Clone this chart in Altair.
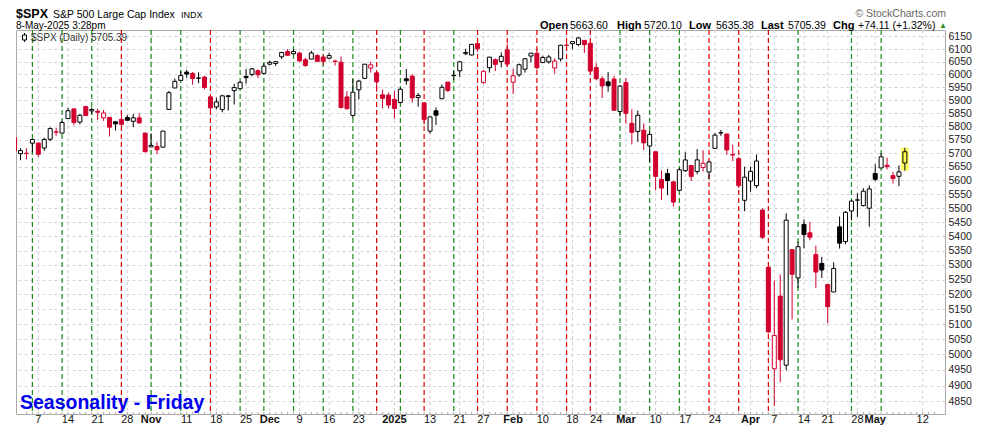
import altair as alt
import pandas as pd
import numpy as np

# ---------------- data ----------------
oct_days = [1,2,3,4,7,8,9,10,11,14,15,16,17,18,21,22,23,24,25,28,29,30,31]
nov_days = [1,4,5,6,7,8,11,12,13,14,15,18,19,20,21,22,25,26,27,29]
dec_days = [2,3,4,5,6,9,10,11,12,13,16,17,18,19,20,23,24,26,27,30,31]
jan_days = [2,3,6,7,8,10,13,14,15,16,17,21,22,23,24,27,28,29,30,31]
feb_days = [3,4,5,6,7,10,11,12,13,14,18,19,20,21,24,25,26,27,28]
mar_days = [3,4,5,6,7,10,11,12,13,14,17,18,19,20,21,24,25,26,27,28,31]
apr_days = [1,2,3,4,7,8,9,10,11,14,15,16,17,21,22,23,24,25,28,29,30]
may_days = [1,2,5,6,7,8]

opens = [
 5757.73,5698.14,5698.19,5737.35,5737.80,5719.14,5751.80,5778.36,5775.09,5829.81,5866.74,5816.58,5875.62,5859.43,5857.82,5832.70,5834.50,5817.80,5826.75,5833.93,5819.68,5832.65,5775.34,
 5723.22,5725.15,5722.43,5864.89,5947.21,5976.76,6008.86,6003.60,5985.75,5989.60,5912.79,5874.17,5864.59,5914.17,5937.00,5944.36,5992.28,6000.03,6014.11,6003.98,
 6040.11,6042.97,6069.39,6089.84,6081.38,6083.96,6057.59,6060.15,6074.29,6068.17,6063.79,6052.55,6047.65,5912.71,5842.00,5940.25,5984.63,6024.97,6006.17,5920.67,5919.74,
 5903.26,5891.07,5982.81,5993.26,5910.66,5890.02,5782.50,5859.41,5905.71,5969.89,5995.00,6014.12,6081.39,6076.32,6121.43,5969.04,6026.01,6057.70,6050.75,6096.79,
 5969.65,5998.14,6020.45,6072.22,6083.13,6046.40,6049.32,6025.08,6060.59,6115.52,6121.60,6117.76,6134.50,6123.03,6026.69,5982.73,5970.87,5981.88,5856.74,
 5968.33,5811.98,5781.41,5785.87,5726.80,5705.37,5603.65,5624.84,5594.45,5563.85,5635.60,5654.53,5632.37,5646.92,5630.72,5718.08,5775.17,5771.66,5695.64,5679.64,5527.91,
 5597.53,5580.76,5492.74,5292.14,4953.79,5193.57,4965.28,5353.15,5255.56,5441.96,5411.99,5335.75,5305.45,5232.94,5207.67,5433.19,5381.38,5489.73,5529.22,5508.87,5499.44,
 5625.14,5645.55,5655.32,5617.33,5614.94,5663.60]

highs = [
 5757.73,5719.14,5718.78,5753.12,5739.34,5757.60,5796.80,5795.03,5822.13,5871.41,5870.36,5846.52,5878.46,5872.17,5866.92,5863.04,5834.85,5817.80,5862.82,5842.92,5847.19,5850.94,5775.34,
 5772.52,5741.43,5783.44,5936.14,5983.84,6012.45,6017.31,6009.92,6008.19,5993.88,5915.29,5909.45,5920.81,5920.67,5963.44,5972.90,6020.75,6025.42,6020.16,6044.17,
 6053.58,6052.06,6087.44,6099.97,6099.97,6088.51,6065.40,6092.59,6079.68,6078.58,6085.19,6057.68,6070.67,5935.52,5982.06,5978.25,6040.10,6049.75,6006.17,5940.79,5929.74,
 5935.09,5949.34,6021.04,6000.68,5927.89,5890.02,5838.36,5871.92,5960.61,5969.89,6014.96,6051.51,6100.81,6118.73,6128.18,6017.17,6069.69,6062.83,6086.64,6120.91,
 6022.13,6042.48,6062.86,6084.03,6101.28,6073.38,6076.28,6063.62,6116.91,6127.47,6129.63,6147.43,6134.50,6125.16,6043.65,5992.65,6009.82,5993.69,5959.40,
 5986.09,5865.08,5860.59,5812.08,5783.01,5705.37,5636.30,5642.19,5597.78,5645.27,5703.52,5654.53,5715.33,5711.15,5670.84,5775.14,5786.95,5772.51,5732.28,5685.89,5650.57,
 5650.83,5695.31,5499.53,5292.14,5246.57,5267.47,5481.34,5353.15,5381.46,5459.46,5450.41,5367.24,5328.31,5232.94,5309.60,5469.69,5489.40,5528.11,5553.66,5571.95,5581.84,
 5658.91,5700.70,5683.28,5631.42,5655.41,5720.10]

lows = [
 5681.28,5674.00,5677.40,5702.83,5686.85,5708.73,5745.02,5764.76,5775.09,5829.81,5804.48,5808.34,5840.25,5846.11,5824.81,5821.17,5762.41,5784.92,5799.98,5823.08,5797.87,5811.28,5703.43,
 5723.22,5696.51,5722.10,5864.89,5947.21,5976.76,5986.69,5960.08,5965.91,5942.28,5853.01,5865.95,5853.81,5860.70,5883.48,5944.36,5963.91,5992.27,5984.87,6003.98,
 6035.33,6033.39,6060.70,6079.98,6079.98,6048.63,6029.89,6060.15,6051.25,6035.77,6059.14,6035.19,5867.79,5866.07,5832.30,5902.57,5981.44,6007.37,5932.95,5869.16,5868.86,
 5829.53,5888.66,5960.01,5890.68,5874.78,5807.78,5773.31,5805.23,5905.71,5930.99,5978.44,5990.00,6076.13,6074.67,6088.74,5962.92,6007.21,6012.96,6027.46,6030.93,
 5923.93,5990.87,6007.06,6046.83,6019.96,6044.84,6042.34,6003.00,6051.00,6107.62,6099.51,6111.15,6084.59,6008.56,5977.43,5908.49,5932.69,5858.78,5837.66,
 5810.91,5732.59,5742.35,5711.64,5666.29,5564.02,5528.41,5546.09,5504.65,5563.85,5631.12,5597.76,5622.20,5632.33,5603.10,5718.08,5764.92,5694.06,5670.94,5572.42,5488.73,
 5558.52,5571.48,5390.83,5069.90,4835.04,4910.42,4948.43,5115.27,5220.77,5358.02,5386.44,5220.79,5255.58,5101.63,5207.67,5356.88,5371.96,5455.86,5468.64,5505.70,5433.24,
 5597.35,5645.55,5640.40,5589.09,5578.64,5635.38]

closes = [
 5708.75,5709.54,5699.94,5751.07,5695.94,5751.13,5792.04,5780.05,5815.03,5859.85,5815.26,5842.47,5841.47,5864.67,5853.98,5851.20,5797.42,5809.86,5808.12,5823.52,5832.92,5813.67,5705.45,
 5728.80,5712.69,5782.76,5929.04,5973.10,5995.54,6001.35,5983.99,5985.38,5949.17,5870.62,5893.62,5916.98,5917.11,5948.71,5969.34,5987.37,6021.63,5998.74,6032.38,
 6047.15,6049.88,6086.49,6075.11,6090.27,6052.85,6034.91,6084.19,6051.25,6051.09,6074.08,6050.61,5872.16,5867.08,5930.85,5974.07,6040.04,6037.59,5970.84,5906.94,5881.63,
 5868.55,5942.47,5975.38,5909.03,5918.25,5827.04,5836.22,5842.91,5949.91,5937.34,5996.66,6049.24,6086.37,6118.71,6101.24,6012.28,6067.70,6039.31,6071.17,6040.53,
 5994.57,6037.88,6061.48,6083.57,6025.99,6066.44,6068.50,6051.97,6115.07,6114.63,6129.58,6144.15,6117.52,6013.13,5983.25,5955.25,5956.06,5861.57,5954.50,
 5849.72,5778.15,5842.63,5738.52,5770.20,5614.56,5572.07,5599.30,5521.52,5638.94,5675.12,5614.66,5675.29,5662.89,5667.56,5767.57,5776.65,5712.20,5693.31,5580.94,5611.85,
 5633.07,5670.97,5396.52,5074.08,5062.25,4982.77,5456.90,5268.05,5363.36,5405.97,5396.63,5275.70,5282.70,5158.20,5287.76,5375.86,5484.77,5525.21,5528.75,5560.83,5569.06,
 5604.14,5686.67,5650.38,5606.91,5631.28,5705.39]

axis_label_dates = ["2024-10-07","2024-10-14","2024-10-21","2024-10-28","2024-11-01","2024-11-11","2024-11-18",
    "2024-11-25","2024-12-02","2024-12-09","2024-12-16","2024-12-23","2025-01-02","2025-01-13","2025-01-21",
    "2025-01-27","2025-02-03","2025-02-10","2025-02-18","2025-02-24","2025-03-03","2025-03-10","2025-03-17",
    "2025-03-24","2025-04-01","2025-04-07","2025-04-14","2025-04-21","2025-04-28","2025-05-01","2025-05-12"]
axis_label_texts = ["7","14","21","28","Nov","11","18","25","Dec","9","16","23","2025","13","21","27",
    "Feb","10","18","24","Mar","10","17","24","Apr","7","14","21","28","May","12"]
bold_labels = {"Nov","Dec","2025","Feb","Mar","Apr","May"}

friday_dates = ["2024-10-04","2024-10-11","2024-10-18","2024-10-25","2024-11-01","2024-11-08","2024-11-15",
    "2024-11-22","2024-11-29","2024-12-06","2024-12-13","2024-12-20","2024-12-27","2025-01-03","2025-01-10",
    "2025-01-17","2025-01-24","2025-01-31","2025-02-07","2025-02-14","2025-02-21","2025-02-28","2025-03-07",
    "2025-03-14","2025-03-21","2025-03-28","2025-04-04","2025-04-11","2025-04-25","2025-05-02"]
friday_up = [1,1,1,0, 1,1,0,1,1, 1,1,1,0, 1,0,1,0,0, 0,0,0,1, 1,1,0,0, 0,1,1, 1]

ytick_values = list(range(4850, 6151, 50))

# ---------------- frame building ----------------
dates = ([f"2024-10-{d:02d}" for d in oct_days] + [f"2024-11-{d:02d}" for d in nov_days] +
         [f"2024-12-{d:02d}" for d in dec_days] + [f"2025-01-{d:02d}" for d in jan_days] +
         [f"2025-02-{d:02d}" for d in feb_days] + [f"2025-03-{d:02d}" for d in mar_days] +
         [f"2025-04-{d:02d}" for d in apr_days] + [f"2025-05-{d:02d}" for d in may_days])
idx_of = {d: i for i, d in enumerate(dates)}
idx_of["2025-05-12"] = len(dates) + 2

RED = "#d2002e"
BLACK = "#000000"
df = pd.DataFrame({"date": dates, "open": opens, "high": highs, "low": lows, "close": closes})
df["idx"] = np.arange(len(df))
prev = df["close"].shift(1).fillna(df["open"])
df["edge"] = np.where(df["close"] < prev, RED, BLACK)
df["fill"] = np.where(df["close"] >= df["open"], "#ffffff", df["edge"])
df.loc[df.index[-1], "fill"] = "#ffff4d"

lab = pd.DataFrame({"t": axis_label_texts, "idx": [idx_of[d] for d in axis_label_dates]})
lab["bold"] = lab["t"].isin(bold_labels)
fri = pd.DataFrame({"idx": [idx_of[d] for d in friday_dates],
                    "col": ["#1a8c1a" if u else "#e00000" for u in friday_up]})
ticks_df = pd.DataFrame({"idx": list(range(2, 156))})

# ---------------- scales ----------------
W, H = 929, 384
xs = alt.Scale(domain=[1.08333, 155.91667], nice=False, zero=False)
ys = alt.Scale(type="log", domain=[4810, 6176], nice=False)
FONT = "Liberation Sans"
yaxis = alt.Axis(orient="right", values=ytick_values, format="d", title=None, grid=True,
                 gridColor="#d6d6d6", gridDash=[3, 3], ticks=False, domain=False,
                 labelPadding=3, labelFontSize=10.5, labelColor="#222222", labelFont=FONT,
                 labelOverlap=False, labelFlush=False, labelBaseline="middle")
X = alt.X("idx:Q", scale=xs, axis=None)

last = df.iloc[[-1]]
highlight = alt.Chart(last).mark_bar(size=8, color="#ffff66", clip=True).encode(
    x=X, y=alt.Y("low:Q", scale=ys, axis=yaxis), y2="high:Q")

vgrid = alt.Chart(lab).mark_rule(color="#cfcfcf", strokeDash=[3, 3], strokeWidth=1).encode(x=X)
fridays = alt.Chart(fri).mark_rule(strokeDash=[5, 3], strokeWidth=1.2).encode(
    x=X, stroke=alt.Stroke("col:N", scale=None))
dayticks = alt.Chart(ticks_df).mark_rule(color="#aaaaaa").encode(
    x=X, y=alt.value(H - 2), y2=alt.value(H))

wick = alt.Chart(df).mark_rule(strokeWidth=1, clip=True).encode(
    x=X, y=alt.Y("low:Q", scale=ys, axis=yaxis), y2="high:Q",
    stroke=alt.Stroke("edge:N", scale=None))
body = alt.Chart(df).mark_bar(size=4, strokeWidth=1, clip=True).encode(
    x=X, y=alt.Y("open:Q", scale=ys, axis=yaxis), y2="close:Q",
    fill=alt.Fill("fill:N", scale=None), stroke=alt.Stroke("edge:N", scale=None))

LY = H + 8.5
xlab_n = alt.Chart(lab[~lab["bold"]]).mark_text(fontSize=11, font=FONT, color="#111111",
    baseline="alphabetic").encode(x=X, y=alt.value(LY), text="t:N")
xlab_b = alt.Chart(lab[lab["bold"]]).mark_text(fontSize=11, font=FONT, fontWeight="bold",
    color="#111111", baseline="alphabetic").encode(x=X, y=alt.value(LY), text="t:N")


def txt(s, x, y, size=10.5, weight="normal", color="#000000", align="left"):
    return alt.Chart(pd.DataFrame({"t": [s]})).mark_text(
        align=align, baseline="alphabetic", fontSize=size, fontWeight=weight,
        color=color, font=FONT).encode(x=alt.value(x), y=alt.value(y), text="t:N")


TOP1 = -12
TOP2 = -1.5
texts = [
    txt("$SPX", 0, TOP1, 12.5, "bold"),
    txt("S&P 500 Large Cap Index", 37, TOP1, 10.5),
    txt("INDX", 165, TOP1, 9),
    txt("8-May-2025 3:28pm", 0, TOP2, 10),
    txt("\u00a9 StockCharts.com", 930, -13, 10.5, color="#666666", align="right"),
    txt("Open", 524, TOP2, 11, "bold"),
    txt("5663.60", 554, TOP2, 10.5),
    txt("High", 601, TOP2, 11, "bold"),
    txt("5720.10", 628, TOP2, 10.5),
    txt("Low", 673, TOP2, 11, "bold"),
    txt("5635.38", 700, TOP2, 10.5),
    txt("Last", 745, TOP2, 11, "bold"),
    txt("5705.39", 772, TOP2, 10.5),
    txt("Chg", 817, TOP2, 11, "bold"),
    txt("+74.11 (+1.32%)", 842, TOP2, 10.5),
    txt("\u25b2", 923, TOP2 - 0.5, 8, color="#2a8a2a"),
    txt("$SPX (Daily) 5705.39", 15, 11, 10, color="#333333"),
    txt("Seasonality - Friday", 4, H - 5, 19.5, "bold", color="#0000ee"),
]

icon_wick = alt.Chart(pd.DataFrame({"a": [0]})).mark_rule(color="#000000").encode(
    x=alt.value(8.5), y=alt.value(3), y2=alt.value(12))
icon_body = alt.Chart(pd.DataFrame({"a": [0]})).mark_rect(fill="#ffffff", stroke="#000000").encode(
    x=alt.value(6.5), x2=alt.value(10.5), y=alt.value(5), y2=alt.value(10))

chart = alt.layer(highlight, vgrid, fridays, dayticks, wick, body, xlab_n, xlab_b,
                  icon_wick, icon_body, *texts).properties(
    width=W, height=H,
    padding={"left": 8, "top": 22, "right": 36, "bottom": 11},
    autosize=alt.AutoSizeParams(type="none"),
    background="#ffffff",
).configure(font=FONT).configure_view(stroke="#aaaaaa")

chart.save("out.html", embed_options={"renderer": "svg", "actions": False})
